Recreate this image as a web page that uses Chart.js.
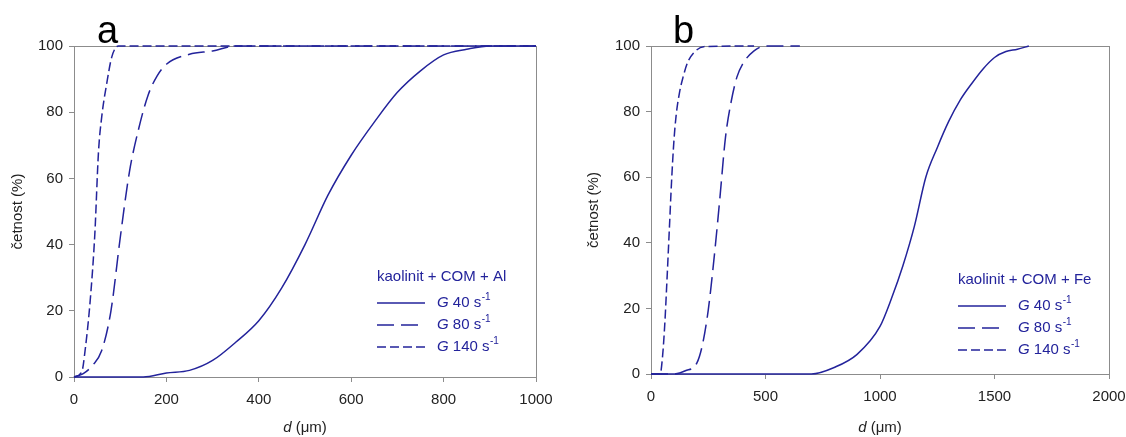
<!DOCTYPE html>
<html>
<head>
<meta charset="utf-8">
<script src="https://cdn.jsdelivr.net/npm/chart.js@4"></script>
<style>
  body { margin: 0; background: #fff; }
  #wrap { position: relative; width: 1126px; height: 437px; }
  canvas { position: absolute; top: 0; }
</style>
</head>
<body>
<div id="wrap">
  <canvas id="chartA" width="563" height="437" style="left:0"></canvas>
  <canvas id="chartB" width="563" height="437" style="left:563px"></canvas>
</div>
<script>
// panel a - kaolinit + COM + Al
const aD40 = [0, 100, 150, 200, 250, 300, 350, 400, 450, 500, 550, 600, 650, 700, 750, 800, 850, 900, 1000];
const aV40 = [0, 0, 0, 1.2, 2, 5, 10.5, 17, 27, 40, 55, 67, 77, 86, 92.5, 97.3, 99, 100, 100];
const aD80 = [0, 20, 40, 60, 80, 100, 120, 140, 160, 180, 200, 250, 300, 350, 1000];
const aV80 = [0, 1, 3.5, 8, 20, 42, 62, 75, 85, 91, 94.5, 97.5, 98.5, 100, 100];
const aD140 = [0, 17, 24, 35, 45, 53, 60, 71, 82, 96, 1000];
const aV140 = [0, 1.6, 8, 23, 43, 68, 78.6, 88.8, 96.8, 100, 100];

// panel b - kaolinit + COM + Fe
const bD40 = [0, 650, 700, 800, 900, 1000, 1050, 1100, 1150, 1200, 1250, 1300, 1350, 1400, 1450, 1500, 1550, 1600, 1650];
const bV40 = [0, 0, 0, 2, 6, 14.5, 23, 33, 45, 60, 69, 77, 83.5, 88.5, 93, 96.5, 98.3, 99, 100];
const bD80 = [0, 100, 150, 200, 225, 250, 275, 300, 325, 350, 375, 400, 450, 500, 650];
const bV80 = [0, 0, 1, 3.3, 9, 19.5, 35, 53, 72, 83, 90.5, 94.5, 98.5, 100, 100];
const bD140 = [0, 40, 50, 60, 70, 80, 90, 100, 110, 125, 140, 160, 185, 230, 450];
const bV140 = [0, 0, 5, 15, 29, 44, 59, 71, 79, 86, 90.5, 95, 97.8, 99.8, 100];

const seriesLabels = ['40', '80', '140'];
const yTicks = [0, 20, 40, 60, 80, 100];

const navy = '#23239b';
const grey = '#8c8c8c';
const dashes = [[], [17, 7], [9, 4]];
const FONT = '"Liberation Sans", Arial, sans-serif';

const pts = (xs, ys) => xs.map((x, i) => ({ x: x, y: ys[i] }));

// rámeček, písmeno panelu, popisky os a legenda
const decor = {
    id: 'decor',
    beforeDatasetsDraw(chart) {
        const ctx = chart.ctx;
        const a = chart.chartArea;
        ctx.save();
        ctx.strokeStyle = grey;
        ctx.lineWidth = 1;
        ctx.strokeRect(a.left + 0.5, a.top + 0.5, a.right - a.left, a.bottom - a.top);
        ctx.restore();
    },
    afterDraw(chart, args, o) {
        const ctx = chart.ctx;
        const a = chart.chartArea;
        ctx.save();
        ctx.fillStyle = '#000';
        ctx.font = '38px ' + FONT;
        ctx.textBaseline = 'alphabetic';
        ctx.fillText(o.letter, o.letterX, 43);

        // osa x: d (μm)
        ctx.fillStyle = '#222';
        ctx.textBaseline = 'middle';
        const cx = (a.left + a.right) / 2;
        ctx.font = 'italic 15px ' + FONT;
        const wd = ctx.measureText('d').width;
        ctx.font = '15px ' + FONT;
        const wr = ctx.measureText(' (μm)').width;
        const x0 = cx - (wd + wr) / 2;
        ctx.font = 'italic 15px ' + FONT;
        ctx.fillText('d', x0, 428);
        ctx.font = '15px ' + FONT;
        ctx.fillText(' (μm)', x0 + wd, 428);

        // osa y
        ctx.save();
        ctx.translate(o.yTitleX, (a.top + a.bottom) / 2);
        ctx.rotate(-Math.PI / 2);
        ctx.textAlign = 'center';
        ctx.fillText('četnost (%)', 0, 0);
        ctx.restore();

        // legenda
        ctx.fillStyle = navy;
        ctx.strokeStyle = navy;
        ctx.font = '15px ' + FONT;
        ctx.fillText(o.legendTitle, o.legX, o.legY);
        seriesLabels.forEach((s, i) => {
            const y = o.legY + 26 + i * 22;
            ctx.lineWidth = 1.6;
            ctx.setLineDash(dashes[i]);
            ctx.beginPath();
            ctx.moveTo(o.legX, y);
            ctx.lineTo(o.legX + 48, y);
            ctx.stroke();
            ctx.setLineDash([]);
            let tx = o.legX + 60;
            ctx.font = 'italic 15px ' + FONT;
            ctx.fillText('G', tx, y);
            tx += ctx.measureText('G ').width;
            ctx.font = '15px ' + FONT;
            const t = s + ' s';
            ctx.fillText(t, tx, y);
            tx += ctx.measureText(t).width + 0.5;
            ctx.font = '10px ' + FONT;
            ctx.fillText('-1', tx, y - 6);
        });
        ctx.restore();
    }
};

function makeChart(id, sets, xMax, xStep, yAxisW, xAxisH, padRight, decorOpts) {
    return new Chart(document.getElementById(id).getContext('2d'), {
        type: 'line',
        data: {
            datasets: sets.map((d, i) => ({
                label: 'G ' + seriesLabels[i] + ' s-1',
                data: d,
                borderColor: navy,
                borderWidth: 1.5,
                borderDash: dashes[i],
                pointRadius: 0,
                fill: false,
                clip: 2,
                cubicInterpolationMode: 'monotone'
            }))
        },
        options: {
            responsive: false,
            animation: false,
            layout: { padding: { left: 0, top: 46, right: padRight, bottom: 0 } },
            plugins: { legend: { display: false }, tooltip: { enabled: false }, decor: decorOpts },
            scales: {
                x: {
                    type: 'linear', min: 0, max: xMax,
                    afterFit: s => { s.height = xAxisH; s.paddingLeft = 0; s.paddingRight = 0; },
                    border: { color: grey },
                    grid: { drawOnChartArea: false, tickLength: 5, color: grey },
                    ticks: { stepSize: xStep, padding: 9, maxRotation: 0, color: '#222',
                             callback: v => String(v),
                             font: { size: 15, family: FONT } }
                },
                y: {
                    min: 0, max: 100,
                    afterFit: s => { s.width = yAxisW; s.paddingTop = 0; s.paddingBottom = 0; },
                    afterBuildTicks: s => { s.ticks = yTicks.map(v => ({ value: v })); },
                    border: { color: grey },
                    grid: { drawOnChartArea: false, tickLength: 5, color: grey },
                    ticks: { padding: 6, color: '#222', callback: v => String(v),
                             font: { size: 15, family: FONT } }
                }
            }
        },
        plugins: [decor]
    });
}

makeChart('chartA', [pts(aD40, aV40), pts(aD80, aV80), pts(aD140, aV140)],
    1000, 200, 74, 60, 27,
    { letter: 'a', letterX: 97, yTitleX: 18, legendTitle: 'kaolinit + COM + Al', legX: 377, legY: 277 });

makeChart('chartB', [pts(bD40, bV40), pts(bD80, bV80), pts(bD140, bV140)],
    2000, 500, 88, 63, 17,
    { letter: 'b', letterX: 110, yTitleX: 31, legendTitle: 'kaolinit + COM + Fe', legX: 395, legY: 280 });
</script>
</body>
</html>
